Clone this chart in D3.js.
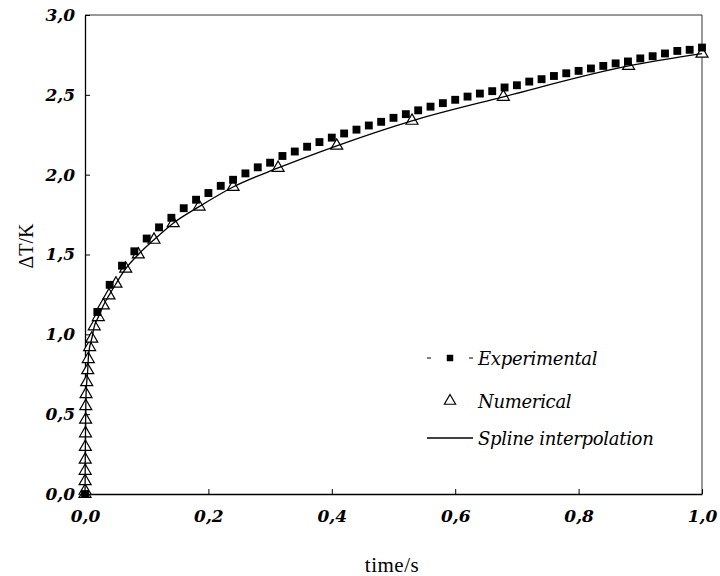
<!DOCTYPE html>
<html>
<head>
<meta charset="utf-8">
<script src="https://cdn.jsdelivr.net/npm/d3@7"></script>
<style>
  body { margin: 0; background: #fff; }
  svg { display: block; font-family: "Liberation Serif", "Times New Roman", serif; }
</style>
</head>
<body>
<div id="chart"></div>
<script>
// experimental points, every 0.02 s
var expTime = [0, 0.02, 0.04, 0.06, 0.08, 0.10, 0.12, 0.14, 0.16, 0.18, 0.20, 0.22, 0.24, 0.26, 0.28, 0.30,
    0.32, 0.34, 0.36, 0.38, 0.40, 0.42, 0.44, 0.46, 0.48, 0.50, 0.52, 0.54, 0.56, 0.58, 0.60, 0.62, 0.64,
    0.66, 0.68, 0.70, 0.72, 0.74, 0.76, 0.78, 0.80, 0.82, 0.84, 0.86, 0.88, 0.90, 0.92, 0.94, 0.96, 0.98, 1.00];
var expDT = [0, 1.14, 1.31, 1.43, 1.52, 1.60, 1.67, 1.73, 1.79, 1.843, 1.885, 1.93, 1.968, 2.008, 2.046, 2.075,
    2.117, 2.145, 2.175, 2.204, 2.232, 2.258, 2.282, 2.308, 2.331, 2.356, 2.379, 2.403, 2.426, 2.448, 2.469, 2.489, 2.508,
    2.523, 2.546, 2.56, 2.583, 2.598, 2.618, 2.635, 2.65, 2.665, 2.681, 2.697, 2.709, 2.728, 2.742, 2.759, 2.775, 2.782, 2.796];

// numerical solution (growing time step)
var numTime = [0, 0.0001, 0.0002, 0.0003, 0.0004, 0.0006, 0.0008, 0.001, 0.0013, 0.0017, 0.0028, 0.0044, 0.0053,
    0.0075, 0.011, 0.015, 0.0216, 0.0297, 0.0389, 0.0502, 0.066, 0.0864, 0.1118, 0.143, 0.185, 0.240, 0.313,
    0.408, 0.530, 0.678, 0.881, 1.0];
var numDT = [0, 0.02, 0.08, 0.145, 0.215, 0.295, 0.38, 0.465, 0.55, 0.625, 0.70, 0.775, 0.845,
    0.92, 0.973, 1.05, 1.108, 1.181, 1.244, 1.317, 1.411, 1.5, 1.592, 1.696, 1.80, 1.923, 2.042,
    2.181, 2.3375, 2.4875, 2.681, 2.758];

var xTicks = [0, 0.2, 0.4, 0.6, 0.8, 1.0];
var yTicks = [0, 0.5, 1.0, 1.5, 2.0, 2.5, 3.0];
var legendLabels = ["Experimental", "Numerical", "Spline interpolation"];

const width = 720;
const height = 576;

var svg = d3.select("#chart").append("svg")
    .attr("width", width)
    .attr("height", height);

var x = d3.scaleLinear().domain([0, 1]).range([85, 702]);
var y = d3.scaleLinear().domain([0, 3]).range([494, 15]);

var fmt = function(d) { return d3.format(".1f")(d).replace(".", ","); };

// frame top/right
svg.append("path")
    .attr("d", "M" + x(0) + "," + y(3) + "H" + x(1) + "V" + y(0))
    .attr("fill", "none")
    .attr("stroke", "#333")
    .attr("stroke-width", 1);

// x axis, ticks pointing inside
var xAxis = svg.append("g")
    .attr("transform", "translate(0," + y(0) + ")")
    .call(d3.axisBottom(x).tickValues(xTicks).tickFormat(fmt).tickSizeInner(-5).tickSizeOuter(0).tickPadding(16));

// y axis
var yAxis = svg.append("g")
    .attr("transform", "translate(" + x(0) + ",0)")
    .call(d3.axisLeft(y).tickValues(yTicks).tickFormat(fmt).tickSizeInner(-5).tickSizeOuter(0).tickPadding(10));

[xAxis, yAxis].forEach(function(a) {
    a.attr("font-family", null);
    a.select(".domain").attr("stroke", "#000").attr("stroke-width", 1.3);
    a.selectAll(".tick line").attr("stroke", "#000");
    a.selectAll(".tick text")
        .attr("fill", "#000")
        .style("font-family", "DejaVu Serif")
        .style("font-size", "17px")
        .style("font-weight", "bold")
        .style("font-style", "italic");
});

// axis titles
svg.append("text")
    .attr("x", 392)
    .attr("y", 572)
    .attr("text-anchor", "middle")
    .style("font-size", "21px")
    .style("letter-spacing", "0.5px")
    .text("time/s");

svg.append("text")
    .attr("transform", "translate(33,246) rotate(-90)")
    .attr("text-anchor", "middle")
    .style("font-size", "20px")
    .text("ΔT/K");

var numData = numTime.map(function(t, i) { return [t, numDT[i]]; });
var expData = expTime.map(function(t, i) { return [t, expDT[i]]; });

var tri = d3.symbol().type(d3.symbolTriangle).size(62);
var sq = d3.symbol().type(d3.symbolSquare).size(62);

// numerical triangles
svg.append("g").selectAll("path")
    .data(numData)
    .enter()
    .append("path")
    .attr("d", tri)
    .attr("transform", function(d) { return "translate(" + x(d[0]) + "," + y(d[1]) + ")"; })
    .attr("fill", "#fff")
    .attr("stroke", "#000")
    .attr("stroke-width", 1.2);

// spline through numerical points
var line = d3.line()
    .x(function(d) { return x(d[0]); })
    .y(function(d) { return y(d[1]); })
    .curve(d3.curveMonotoneX);

svg.append("path")
    .datum(numData)
    .attr("d", line)
    .attr("fill", "none")
    .attr("stroke", "#000")
    .attr("stroke-width", 1.3);

// experimental squares
svg.append("g").selectAll("path")
    .data(expData)
    .enter()
    .append("path")
    .attr("d", sq)
    .attr("transform", function(d) { return "translate(" + x(d[0]) + "," + y(d[1]) + ")"; })
    .attr("fill", "#000");

// legend
var lg = svg.append("g");
var rows = [358, 401, 438];

lg.append("line").attr("x1", 427).attr("x2", 431).attr("y1", rows[0]).attr("y2", rows[0]).attr("stroke", "#000");
lg.append("line").attr("x1", 469).attr("x2", 473).attr("y1", rows[0]).attr("y2", rows[0]).attr("stroke", "#000");
lg.append("path").attr("d", d3.symbol().type(d3.symbolSquare).size(42))
    .attr("transform", "translate(450," + rows[0] + ")").attr("fill", "#000");
lg.append("path").attr("d", d3.symbol().type(d3.symbolTriangle).size(55))
    .attr("transform", "translate(450," + rows[1] + ")")
    .attr("fill", "#fff").attr("stroke", "#000").attr("stroke-width", 1.2);
lg.append("line").attr("x1", 427).attr("x2", 473).attr("y1", rows[2]).attr("y2", rows[2])
    .attr("stroke", "#000").attr("stroke-width", 1.3);

lg.selectAll("text")
    .data(legendLabels)
    .enter()
    .append("text")
    .attr("x", 478)
    .attr("y", function(d, i) { return rows[i] + 7; })
    .style("font-family", "DejaVu Serif")
    .style("font-size", "18px")
    .style("font-style", "italic")
    .style("letter-spacing", "-0.3px")
    .text(function(d) { return d; });
</script>
</body>
</html>
